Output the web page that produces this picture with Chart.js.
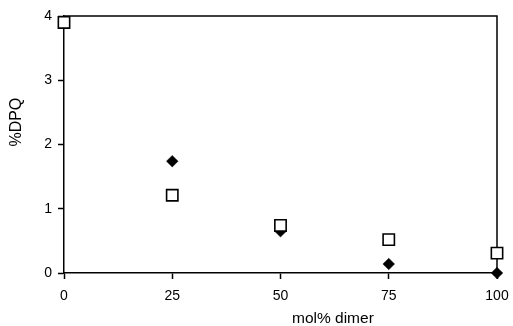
<!DOCTYPE html>
<html>
<head>
<meta charset="utf-8">
<script src="https://cdn.jsdelivr.net/npm/chart.js@4.4.1/dist/chart.umd.min.js"></script>
<style>
  html, body { margin: 0; padding: 0; background: #fff; }
  #wrap { width: 513px; height: 326px; }
</style>
</head>
<body>
<div id="wrap"><canvas id="dpq-chart" width="513" height="326"></canvas></div>
<script>
// mol% dimer at each sample
const dimerPct = [0, 25, 50, 75, 100];
// %DPQ, open squares
const dpqSquares = [3.9, 1.21, 0.74, 0.52, 0.31];
// %DPQ, filled diamonds (none at 0)
const diamondDimer = [25, 50, 75, 100];
const dpqDiamonds = [1.74, 0.65, 0.14, 0.0];

const xTicks = [0, 25, 50, 75, 100];
const yTicks = [0, 1, 2, 3, 4];

const xTitle = 'mol% dimer';
const yTitle = '%DPQ';

const toPoints = (xs, ys) => xs.map((x, i) => ({ x: x, y: ys[i] }));

const family = "'Liberation Sans', Arial, sans-serif";
const tickFont = { family: family, size: 14 };

// closes the frame on the top and right sides
const framePlugin = {
    id: 'frame',
    beforeDatasetsDraw(chart) {
        const { ctx, chartArea: a } = chart;
        ctx.save();
        ctx.strokeStyle = '#000';
        ctx.lineWidth = 1.5;
        ctx.beginPath();
        ctx.moveTo(a.left, a.top);
        ctx.lineTo(a.right, a.top);
        ctx.lineTo(a.right, a.bottom);
        ctx.stroke();
        ctx.restore();
    }
};

// axis titles sit off-centre, so they are placed by hand
const titlesPlugin = {
    id: 'axisTitles',
    afterDraw(chart) {
        const { ctx, chartArea: a } = chart;
        ctx.save();
        ctx.fillStyle = '#000';
        ctx.textAlign = 'center';
        ctx.textBaseline = 'middle';

        ctx.font = '15.5px ' + family;
        ctx.fillText(xTitle, a.left + (a.right - a.left) * 0.621, a.bottom + 46);

        ctx.translate(17, a.top + (a.bottom - a.top) * 0.413);
        ctx.rotate(-Math.PI / 2);
        ctx.font = '16px ' + family;
        ctx.fillText(yTitle, 0, 0);
        ctx.restore();
    }
};

new Chart(document.getElementById('dpq-chart'), {
    type: 'scatter',
    data: {
        datasets: [
            {
                label: 'squares',
                data: toPoints(dimerPct, dpqSquares),
                pointStyle: 'rect',
                pointRadius: 8,
                pointHoverRadius: 8,
                pointBackgroundColor: '#fff',
                pointBorderColor: '#000',
                pointBorderWidth: 1.6,
                clip: false,
                order: 0
            },
            {
                label: 'diamonds',
                data: toPoints(diamondDimer, dpqDiamonds),
                pointStyle: 'rectRot',
                pointRadius: 5.8,
                pointHoverRadius: 5.8,
                pointBackgroundColor: '#000',
                pointBorderColor: '#000',
                pointBorderWidth: 0.5,
                clip: false,
                order: 1
            }
        ]
    },
    options: {
        responsive: false,
        animation: false,
        events: [],
        layout: { padding: { top: 16, right: 16, left: 0, bottom: 0 } },
        plugins: { legend: { display: false }, tooltip: { enabled: false } },
        scales: {
            x: {
                type: 'linear',
                min: 0,
                max: 100,
                afterBuildTicks: (s) => { s.ticks = xTicks.map(v => ({ value: v })); },
                afterFit: (s) => { s.height = 53; s.paddingLeft = 0; s.paddingRight = 0; },
                grid: { drawOnChartArea: false, tickLength: 6, tickColor: '#000', tickWidth: 1.5 },
                border: { color: '#000', width: 1.5 },
                ticks: { color: '#000', font: tickFont, padding: 9, maxRotation: 0 }
            },
            y: {
                type: 'linear',
                min: 0,
                max: 4,
                afterBuildTicks: (s) => { s.ticks = yTicks.map(v => ({ value: v })); },
                afterFit: (s) => { s.width = 64; s.paddingTop = 0; s.paddingBottom = 0; },
                grid: { drawOnChartArea: false, tickLength: 6, tickColor: '#000', tickWidth: 1.5 },
                border: { color: '#000', width: 1.5 },
                ticks: { color: '#000', font: tickFont, padding: 6 }
            }
        }
    },
    plugins: [framePlugin, titlesPlugin]
});
</script>
</body>
</html>
